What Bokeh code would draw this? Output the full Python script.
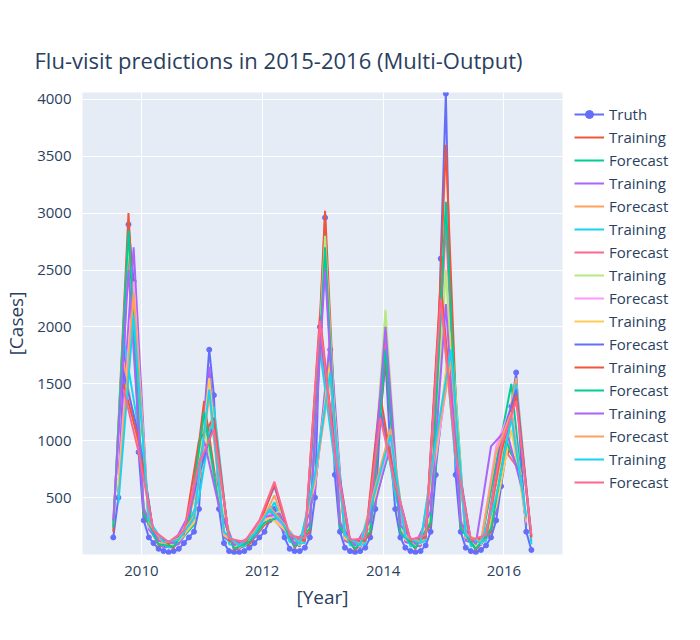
from datetime import datetime

from bokeh.embed import file_html
from bokeh.models import Legend, LegendItem, Range1d, DatetimeTickFormatter, FixedTicker
from bokeh.plotting import figure
from bokeh.resources import INLINE

FONT = "Open Sans"
INK = "#2a3f5f"
PALETTE = ["#636efa", "#EF553B", "#00cc96", "#ab63fa", "#FFA15A",
           "#19d3f3", "#FF6692", "#B6E880", "#FF97FF", "#FECB52"]

# weekly flu visits at monthly resolution
truth_start = (2009, 7)
truth = [150, 500, 1600, 2900, 2400, 900,
         300, 150, 100, 50, 30, 20, 30, 50, 100, 150, 200, 400,
         1200, 1800, 1400, 400, 100, 30, 20, 20, 30, 60, 100, 150,
         200, 300, 400, 300, 150, 50, 30, 30, 60, 150, 500, 2000,
         2960, 1800, 700, 200, 60, 30, 20, 30, 60, 150, 400, 1200,
         1700, 900, 400, 150, 60, 30, 20, 30, 80, 200, 700, 2600,
         4050, 1900, 700, 200, 60, 30, 20, 40, 80, 150, 300, 600,
         900, 1300, 1600, 800, 200, 40]

# model outputs, every third month; offset = first month after Jul 2009
training_offsets = [0, 1, 2, 0, 1, 2, 0, 1]
training = [
    [200, 3000, 350, 80, 60, 250, 1350, 450, 40, 90, 260, 340, 60, 200, 3020, 260, 40, 180, 1750, 200, 50, 260, 3600, 240, 40, 200, 950, 750],
    [700, 2700, 220, 60, 90, 300, 1650, 160, 50, 150, 350, 200, 70, 560, 1900, 120, 60, 450, 1000, 110, 70, 800, 1850, 120, 80, 380, 1250, 260],
    [1900, 1100, 160, 60, 160, 500, 1300, 90, 70, 220, 460, 110, 100, 1800, 800, 80, 90, 1350, 520, 70, 120, 2300, 800, 70, 120, 700, 1500, 90],
    [260, 2780, 420, 110, 80, 330, 1100, 500, 70, 130, 300, 380, 90, 240, 2800, 300, 70, 260, 2150, 230, 80, 320, 2500, 300, 70, 260, 1000, 700],
    [600, 2300, 260, 80, 120, 280, 1550, 180, 60, 170, 330, 220, 80, 640, 1700, 140, 70, 520, 1100, 130, 90, 900, 1950, 150, 90, 420, 1100, 300],
    [1500, 1000, 180, 90, 180, 1000, 1200, 120, 90, 260, 620, 150, 120, 2100, 900, 110, 120, 1400, 600, 110, 150, 2400, 900, 110, 150, 900, 1400, 150],
    [300, 2500, 400, 120, 100, 350, 1000, 420, 80, 150, 330, 360, 90, 280, 2500, 280, 80, 300, 2000, 260, 90, 380, 2200, 280, 90, 950, 1100, 600],
    [450, 2100, 300, 110, 130, 320, 1450, 200, 80, 180, 400, 250, 90, 700, 1600, 170, 80, 560, 1050, 150, 100, 1000, 1800, 170, 100, 500, 1200, 330],
]
forecast_offsets = [1, 2, 0, 1, 2, 0, 1, 2]
forecast = [
    [550, 2200, 260, 70, 110, 260, 1600, 150, 60, 160, 380, 210, 70, 600, 1750, 130, 60, 480, 950, 120, 80, 750, 2000, 140, 90, 800, 1500, 250],
    [1700, 950, 200, 80, 170, 650, 1250, 110, 80, 240, 520, 140, 110, 1900, 850, 100, 100, 1300, 560, 90, 130, 2200, 850, 100, 140, 850, 1550, 120],
    [280, 2650, 380, 100, 90, 300, 1150, 460, 60, 120, 310, 360, 80, 260, 2600, 250, 60, 250, 1900, 210, 70, 300, 2900, 260, 60, 240, 900, 720],
    [650, 2400, 240, 90, 130, 310, 1500, 170, 70, 190, 360, 230, 90, 620, 1650, 150, 80, 540, 1000, 140, 100, 850, 1750, 160, 100, 950, 1300, 280],
    [1600, 1050, 190, 100, 200, 700, 1150, 130, 100, 280, 600, 160, 130, 1950, 950, 120, 130, 1250, 640, 120, 160, 2300, 950, 120, 160, 1000, 1450, 160],
    [240, 2850, 360, 90, 70, 280, 1250, 430, 50, 110, 280, 330, 70, 230, 2700, 240, 50, 200, 1800, 190, 60, 280, 3100, 230, 50, 220, 1000, 680],
    [500, 2300, 280, 100, 140, 340, 1400, 190, 80, 200, 420, 260, 100, 660, 1550, 160, 90, 600, 1100, 160, 110, 950, 1700, 180, 110, 900, 1250, 310],
    [1450, 900, 210, 110, 210, 800, 1100, 140, 110, 300, 640, 170, 140, 2050, 880, 130, 140, 1200, 620, 130, 170, 2250, 880, 130, 170, 950, 1350, 170],
]


def month(i, offset=0, step=1):
    m = truth_start[1] - 1 + offset + i * step
    return datetime(truth_start[0] + m // 12, m % 12 + 1, 15)


p = figure(
    width=684, height=624, x_axis_type="datetime",
    output_backend="svg", toolbar_location=None,
    frame_width=480, frame_height=462,
    min_border_left=74, min_border_top=92, min_border_bottom=62,
    background_fill_color="#e5ecf6", border_fill_color="white",
    x_range=Range1d(datetime(2009, 1, 10), datetime(2016, 12, 20)),
    y_range=Range1d(0, 4060),
    x_axis_label="[Year]", y_axis_label="[Cases]",
)
p.outline_line_color = None
p.title.text = "Flu-visit predictions in 2015-2016 (Multi-Output)"
p.title.text_font = FONT
p.title.text_font_size = "22px"
p.title.text_font_style = "normal"
p.title.text_color = INK
p.title.offset = -48
p.title.standoff = 36

for ax in (p.xaxis[0], p.yaxis[0]):
    ax.axis_line_color = None
    ax.major_tick_line_color = None
    ax.minor_tick_line_color = None
    ax.major_label_text_font = FONT
    ax.major_label_text_font_size = "15px"
    ax.major_label_text_color = INK
    ax.axis_label_text_font = FONT
    ax.axis_label_text_font_size = "19px"
    ax.axis_label_text_font_style = "normal"
    ax.axis_label_text_color = INK
p.yaxis.ticker = FixedTicker(ticks=[500, 1000, 1500, 2000, 2500, 3000, 3500, 4000])
p.xaxis.ticker = FixedTicker(ticks=[datetime(y, 1, 1).timestamp() * 1000 for y in (2010, 2012, 2014, 2016)])
p.xaxis.formatter = DatetimeTickFormatter(years="%Y", months="%Y", days="%Y")
p.grid.grid_line_color = "white"
p.grid.grid_line_width = 1

items = []
truth_x = [month(i) for i in range(len(truth))]
tl = p.line(truth_x, truth, color=PALETTE[0], line_width=2)
tc = p.scatter(truth_x, truth, color=PALETTE[0], size=5)

series = []
for k in range(8):
    series.append(("Training", training_offsets[k], training[k]))
    series.append(("Forecast", forecast_offsets[k], forecast[k]))

renderers = []
for j, (label, off, vals) in enumerate(series):
    xs = [month(i, off, 3) for i in range(len(vals))]
    r = p.line(xs, vals, color=PALETTE[(j + 1) % 10], line_width=2)
    renderers.append((label, r))

items.append(LegendItem(label="Truth", renderers=[tl, tc]))
for label, r in renderers:
    items.append(LegendItem(label=label, renderers=[r]))

legend = Legend(items=items, location="top_left", border_line_color=None,
                label_text_font=FONT, label_text_font_size="15px",
                label_text_color=INK, glyph_width=30, spacing=3,
                label_height=20, padding=4, margin=12)
p.add_layout(legend, "right")

open("out.html", "w").write(file_html(p, INLINE))
